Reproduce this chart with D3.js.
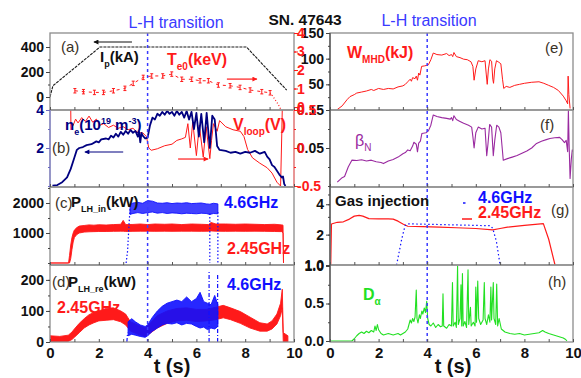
<!DOCTYPE html>
<html>
<head>
<meta charset="utf-8">
<script src="https://cdn.jsdelivr.net/npm/d3@7"></script>
<style>
  body { margin: 0; background: #fff; }
  svg { display: block; }
  text { font-family: "Liberation Sans", Arial, sans-serif; }
</style>
</head>
<body>
<svg id="chart" width="581" height="378"></svg>
<script>
// ---------- shot data (time in s) ----------
const timeLabels = [0, 2, 4, 6, 8, 10];
const timeMinor = [0, 1, 2, 3, 4, 5, 6, 7, 8, 9, 10];
const lhTime = 4;

// (a) plasma current Ip (kA)
const ipSeries = [[0, 0], [0.12, 90], [0.4, 135], [2.05, 400], [8.05, 400], [9.7, 55]];
// (a) central electron temperature Te0 (keV), with error half-width
const teTime = [1.02, 1.37, 1.82, 2.19, 2.6, 3.07, 3.41, 3.82, 4.17, 4.62, 4.99, 5.4, 5.81, 6.15, 6.49, 6.9, 7.38, 7.79, 8.2, 8.68, 9.02];
const teKeV = [0.88, 0.83, 0.79, 0.79, 0.88, 1.01, 1.28, 1.6, 1.68, 1.68, 1.78, 1.5, 1.5, 1.42, 1.42, 1.19, 1.15, 1.06, 0.92, 0.83, 0.77];
const teErr = 0.12;
const teTail = [[9.02, 0.77], [9.15, 0.55], [9.25, 0.35], [9.35, 0.15], [9.45, -0.1]];

// (b) line-averaged density ne (1e19 m^-3)
const neSeries = [[0.1, 0.02], [0.3, 0.05], [0.5, 0.2], [0.7, 0.45], [0.85, 0.9], [1.0, 1.5], [1.1, 1.9], [1.2, 2.0], [1.35, 2.05], [1.5, 2.15], [1.7, 2.2], [1.9, 2.35], [2.0, 2.3], [2.1, 2.45], [2.3, 2.5], [2.4, 2.45], [2.5, 2.65], [2.6, 2.55], [2.7, 2.75], [2.8, 2.6], [2.9, 2.85], [3.0, 2.7], [3.1, 2.9], [3.2, 2.75], [3.3, 2.95], [3.4, 2.8], [3.5, 2.9], [3.6, 2.6], [3.65, 2.85], [3.7, 2.3], [3.75, 2.8], [3.8, 2.65], [3.9, 2.5], [4.0, 2.55], [4.1, 3.2], [4.2, 3.6], [4.3, 3.5], [4.4, 3.8], [4.5, 3.7], [4.6, 3.9], [4.7, 3.75], [4.8, 3.95], [4.9, 3.8], [5.0, 3.9], [5.1, 3.7], [5.2, 3.95], [5.3, 3.75], [5.4, 3.9], [5.5, 3.6], [5.6, 3.95], [5.7, 3.5], [5.8, 3.9], [5.9, 3.0], [6.0, 3.85], [6.1, 2.6], [6.2, 3.8], [6.32, 2.3], [6.42, 3.85], [6.55, 2.0], [6.65, 3.7], [6.75, 3.5], [6.85, 2.1], [6.95, 1.9], [7.2, 1.85], [7.4, 1.75], [7.6, 1.8], [7.8, 1.7], [8.0, 1.8], [8.2, 1.75], [8.4, 1.85], [8.6, 1.7], [8.8, 1.8], [8.9, 1.55], [9.0, 1.4], [9.1, 1.1], [9.2, 1.0], [9.3, 0.8], [9.4, 0.6], [9.5, 0.45], [9.55, 0.5], [9.6, 0.1], [9.65, 0]];
// (b) loop voltage (V)
const vloopSeries = [[0.05, 0.9], [0.84, 0.8], [0.86, 0.24], [0.95, 0.3], [1.05, 0.38], [1.15, 0.33], [1.3, 0.4], [1.45, 0.35], [1.6, 0.42], [1.75, 0.34], [1.9, 0.38], [2.05, 0.3], [2.2, 0.32], [2.4, 0.27], [2.6, 0.3], [2.8, 0.26], [3.0, 0.28], [3.2, 0.24], [3.4, 0.26], [3.6, 0.2], [3.8, 0.2], [3.95, 0.15], [4.05, 0.0], [4.15, -0.03], [4.4, -0.01], [4.7, 0.03], [5.0, 0.05], [5.2, 0.1], [5.4, 0.12], [5.55, 0.14], [5.65, 0.32], [5.75, 0.0], [5.85, 0.34], [6.0, -0.1], [6.12, 0.3], [6.28, -0.12], [6.4, 0.28], [6.55, -0.14], [6.62, 0.1], [6.7, 0.32], [6.85, 0.22], [6.95, 0.36], [7.2, 0.28], [7.5, 0.24], [7.8, 0.22], [7.95, 0.15], [8.1, -0.02], [8.3, -0.13], [8.6, -0.2], [8.9, -0.26], [9.1, -0.33], [9.3, -0.45], [9.45, -0.5], [9.5, 0.2], [9.55, 1.0]];

// (c) injected LHW power (kW): [t, low, high]
const pin245 = [[0, 0, 0], [0.76, 0, 0], [0.8, 0, 250], [0.85, 150, 600], [0.9, 450, 850], [0.95, 700, 1000], [1.0, 850, 1100], [1.1, 950, 1180], [1.2, 1000, 1230], [1.4, 1030, 1250], [1.6, 1040, 1270], [1.8, 1045, 1260], [2.0, 1050, 1275], [2.3, 1050, 1265], [2.6, 1055, 1280], [2.9, 1060, 1290], [3.0, 1060, 1420], [3.1, 1050, 1280], [3.4, 1055, 1285], [3.7, 1060, 1300], [4.0, 1060, 1280], [4.3, 1055, 1300], [4.7, 1060, 1290], [5.0, 1055, 1300], [5.4, 1060, 1280], [5.8, 1060, 1300], [6.2, 1055, 1290], [6.5, 1060, 1280], [6.6, 1070, 1350], [6.8, 1060, 1300], [7.2, 1055, 1300], [7.6, 1060, 1290], [8.0, 1055, 1300], [8.4, 1060, 1290], [8.8, 1055, 1280], [9.2, 1050, 1290], [9.5, 1045, 1270], [9.55, 1000, 1260], [9.57, 0, 0]];
const pin46 = [[3.28, 1620, 1950], [3.4, 1650, 2000], [3.6, 1680, 2020], [3.8, 1650, 1990], [4.0, 1680, 2080], [4.2, 1700, 2060], [4.4, 1660, 2000], [4.6, 1680, 1990], [4.8, 1650, 2010], [5.0, 1670, 1980], [5.2, 1660, 2000], [5.4, 1640, 1990], [5.6, 1660, 2010], [5.8, 1650, 1980], [6.0, 1640, 1990], [6.2, 1660, 2000], [6.4, 1650, 1970], [6.55, 1620, 1960], [6.7, 1650, 1990], [6.88, 1640, 1970]];
const pin46Edges = [
  [[3.12, 0], [3.18, 400], [3.24, 1300], [3.28, 1800]],
  [[6.55, 1650], [6.55, 0]],
  [[6.88, 1700], [6.88, 0]]
];

// (d) reflected LHW power (kW): [t, low, high]
const pre245 = [[0, 0, 20], [0.4, 0, 18], [0.75, 2, 22], [0.9, 8, 32], [1.0, 15, 42], [1.2, 30, 60], [1.4, 45, 75], [1.6, 55, 88], [1.8, 62, 95], [2.0, 68, 100], [2.3, 70, 108], [2.6, 72, 110], [2.9, 65, 100], [3.1, 55, 90], [3.3, 35, 65], [3.6, 25, 55], [3.9, 18, 45], [4.1, 28, 60], [4.4, 45, 85], [4.8, 60, 100], [5.2, 68, 108], [5.6, 70, 110], [6.0, 66, 105], [6.4, 68, 105], [6.8, 72, 112], [7.1, 78, 118], [7.4, 72, 110], [7.8, 60, 98], [8.2, 45, 80], [8.6, 35, 62], [8.9, 35, 58], [9.1, 42, 68], [9.3, 58, 90], [9.45, 85, 125], [9.52, 110, 170], [9.56, 0, 30], [9.75, 0, 20]];
const pre46 = [[3.2, 20, 65], [3.35, 25, 75], [3.5, 22, 65], [3.7, 18, 55], [3.9, 15, 50], [4.0, 20, 55], [4.2, 35, 80], [4.4, 45, 100], [4.6, 55, 115], [4.8, 60, 125], [5.0, 58, 130], [5.2, 62, 135], [5.4, 55, 130], [5.6, 60, 145], [5.8, 58, 130], [6.0, 50, 140], [6.15, 45, 160], [6.3, 48, 130], [6.45, 40, 125], [6.6, 45, 120], [6.75, 42, 150], [6.88, 50, 120]];
const pre46Spikes = [
  [[3.15, 0], [3.18, 30]],
  [[6.52, 0], [6.52, 228]],
  [[6.87, 0], [6.87, 222]]
];

// (e) stored energy W_MHD (kJ)
const wmhdSeries = [[0.3, 1], [0.5, 8], [0.7, 20], [0.82, 26], [1.0, 30], [1.1, 33], [1.3, 35], [1.5, 37], [1.7, 40], [1.8, 38], [2.0, 42], [2.2, 40], [2.4, 42], [2.6, 41], [2.8, 45], [3.0, 47], [3.1, 50], [3.2, 55], [3.3, 60], [3.35, 56], [3.4, 63], [3.5, 61], [3.55, 66], [3.6, 58], [3.65, 72], [3.7, 68], [3.77, 85], [3.9, 86], [4.05, 88], [4.15, 98], [4.25, 111], [4.4, 108], [4.6, 107], [4.8, 110], [4.9, 106], [5.0, 108], [5.05, 104], [5.1, 112], [5.2, 104], [5.35, 102], [5.5, 99], [5.65, 98], [5.8, 94], [5.88, 85], [5.93, 58], [6.0, 80], [6.1, 96], [6.25, 94], [6.38, 96], [6.43, 70], [6.47, 50], [6.52, 80], [6.58, 98], [6.65, 95], [6.7, 60], [6.73, 52], [6.78, 80], [6.85, 96], [6.95, 93], [7.03, 90], [7.1, 60], [7.15, 42], [7.25, 46], [7.4, 44], [7.6, 48], [7.8, 50], [8.0, 52], [8.3, 54], [8.6, 55], [8.8, 52], [9.0, 48], [9.2, 44], [9.4, 38], [9.6, 27], [9.72, 18], [9.78, 12], [9.8, 66], [9.83, 30], [9.88, 3]];

// (f) normalized beta
const betaSeries = [[0.3, -0.04], [0.5, -0.028], [0.6, -0.025], [0.75, 0.0], [0.9, 0.018], [1.1, 0.017], [1.3, 0.019], [1.5, 0.016], [1.7, 0.018], [1.9, 0.014], [2.1, 0.012], [2.2, 0.009], [2.4, 0.016], [2.6, 0.02], [2.8, 0.026], [3.0, 0.035], [3.1, 0.038], [3.2, 0.045], [3.3, 0.043], [3.4, 0.055], [3.45, 0.065], [3.55, 0.06], [3.6, 0.04], [3.65, 0.063], [3.72, 0.068], [3.78, 0.088], [3.95, 0.09], [4.05, 0.095], [4.15, 0.11], [4.25, 0.137], [4.4, 0.133], [4.6, 0.13], [4.8, 0.128], [4.95, 0.126], [5.0, 0.13], [5.05, 0.122], [5.1, 0.135], [5.2, 0.125], [5.35, 0.12], [5.5, 0.115], [5.7, 0.11], [5.83, 0.105], [5.88, 0.08], [5.93, 0.05], [6.0, 0.09], [6.1, 0.105], [6.25, 0.1], [6.38, 0.102], [6.45, 0.03], [6.5, 0.06], [6.57, 0.112], [6.65, 0.105], [6.72, 0.03], [6.78, 0.07], [6.86, 0.11], [6.95, 0.105], [7.03, 0.09], [7.1, 0.04], [7.13, 0.018], [7.3, 0.022], [7.5, 0.026], [7.7, 0.03], [7.9, 0.036], [8.1, 0.042], [8.3, 0.05], [8.5, 0.062], [8.7, 0.068], [8.9, 0.072], [9.05, 0.075], [9.25, 0.077], [9.45, 0.078], [9.55, 0.072], [9.65, 0.064], [9.72, 0.07], [9.78, 0.04], [9.81, 0.15], [9.84, 0.06], [9.88, -0.03], [9.93, 0.02], [9.97, 0.045], [10.0, 0.04]];

// (g) gas injection waveforms
const gas245 = [[0, 1.0], [0.03, 1.0], [0.06, 2.55], [0.3, 2.65], [0.55, 2.68], [0.8, 2.85], [1.0, 3.05], [1.2, 3.1], [1.35, 3.05], [1.6, 2.88], [2.0, 2.87], [2.4, 2.86], [2.6, 2.85], [2.8, 2.72], [3.0, 2.55], [3.2, 2.42], [3.8, 2.4], [4.5, 2.37], [5.2, 2.34], [6.0, 2.3], [6.7, 2.23], [7.0, 2.3], [7.3, 2.37], [8.0, 2.47], [8.78, 2.57], [9.0, 1.8], [9.26, 1.0]];
const gas46 = [[2.74, 1.0], [2.95, 1.8], [3.09, 2.46], [3.2, 2.56], [6.6, 2.45], [6.7, 2.3], [6.85, 1.7], [7.0, 1.0]];

// (h) D-alpha emission
const dalphaSeries = [[0, 0], [0.9, 0], [1.0, 0.03], [1.1, 0.07], [1.2, 0.1], [1.3, 0.12], [1.4, 0.1], [1.5, 0.13], [1.6, 0.11], [1.7, 0.14], [1.8, 0.12], [1.85, 0.2], [1.9, 0.14], [1.95, 0.22], [2.0, 0.15], [2.1, 0.1], [2.2, 0.08], [2.4, 0.1], [2.6, 0.08], [2.8, 0.1], [2.9, 0.08], [3.0, 0.1], [3.1, 0.12], [3.2, 0.16], [3.3, 0.28], [3.35, 0.24], [3.4, 0.3], [3.45, 0.26], [3.5, 0.32], [3.55, 0.68], [3.58, 0.3], [3.62, 0.24], [3.68, 0.35], [3.72, 0.3], [3.78, 0.4], [3.82, 0.36], [3.88, 0.44], [3.93, 0.38], [3.98, 0.53], [4.02, 0.3], [4.08, 0.22], [4.15, 0.2], [4.25, 0.24], [4.35, 0.18], [4.45, 0.22], [4.55, 0.19], [4.62, 0.2], [4.65, 0.63], [4.68, 0.2], [4.8, 0.17], [4.9, 0.22], [5.0, 0.2], [5.04, 0.78], [5.07, 0.2], [5.15, 0.25], [5.2, 0.18], [5.25, 1.0], [5.28, 0.22], [5.35, 0.3], [5.39, 0.75], [5.42, 0.2], [5.45, 0.9], [5.48, 0.2], [5.55, 0.26], [5.62, 0.18], [5.68, 0.95], [5.71, 0.22], [5.78, 0.45], [5.81, 0.2], [5.9, 0.25], [5.97, 0.2], [6.0, 0.72], [6.03, 0.25], [6.08, 0.8], [6.12, 0.3], [6.2, 0.22], [6.3, 0.28], [6.35, 0.78], [6.38, 0.3], [6.45, 0.22], [6.52, 0.35], [6.58, 0.25], [6.62, 0.72], [6.65, 0.28], [6.72, 0.78], [6.75, 0.3], [6.82, 0.22], [6.86, 0.76], [6.9, 0.2], [6.96, 0.3], [7.05, 0.16], [7.2, 0.12], [7.4, 0.1], [7.6, 0.09], [7.8, 0.1], [8.0, 0.08], [8.2, 0.09], [8.4, 0.1], [8.6, 0.11], [8.75, 0.14], [8.85, 0.12], [9.0, 0.1], [9.2, 0.08], [9.4, 0.06], [9.6, 0.04], [9.7, 0.02], [9.75, 0]];

// axis tick values and labels
const ipTicks = [0, 200, 400], ipLabels = ["0", "200", "400"], ipMinor = [0, 100, 200, 300, 400];
const teTicks = [0, 1, 2, 3, 4], teLabels = ["0", "1", "2", "3", "4"];
const neTicks = [2, 4], neLabels = ["2", "4"], neMinor = [0, 1, 2, 3, 4];
const vTicks = [-0.5, 0, 0.5], vLabels = ["-0.5", "0", "0.5"], vMinor = [-0.5, -0.25, 0, 0.25, 0.5];
const pinTicks = [1000, 2000], pinLabels = ["1000", "2000"], pinMinor = [0, 500, 1000, 1500, 2000, 2500];
const preTicks = [0, 100, 200], preLabels = ["0", "100", "200"], preMinor = [0, 50, 100, 150, 200];
const wTicks = [50, 100, 150], wLabels = ["50", "100", "150"], wMinor = [0, 25, 50, 75, 100, 125, 150];
const betaTicks = [0.05, 0.15], betaLabels = ["0.05", "0.15"], betaMinor = [-0.05, 0, 0.05, 0.1, 0.15];
const gasTicks = [1, 2, 4], gasLabels = ["1.0", "2", "4"], gasMinor = [1, 2, 3, 4, 5];
const daTicks = [0, 0.5, 1], daLabels = ["0.0", "0.5", "1.0"], daMinor = [0, 0.25, 0.5, 0.75, 1];

// ---------- layout ----------
const svg = d3.select("#chart");
const colL = [50, 294], colR = [330, 573];
const rowA = [33, 110], rowB = [110, 187], rowC = [187, 265], rowD = [265, 342];

const xL = d3.scaleLinear().domain([0, 10]).range(colL);
const xR = d3.scaleLinear().domain([0, 10]).range(colR);

const yIp = d3.scaleLinear().domain([-104, 512]).range([rowA[1], rowA[0]]);
const yTe = d3.scaleLinear().domain([-0.16, 4]).range([rowA[1], rowA[0]]);
const yNe = d3.scaleLinear().domain([0, 4]).range([186, rowB[0]]);
const yV = d3.scaleLinear().domain([-0.5, 0.5]).range([186, rowB[0]]);
const yPin = d3.scaleLinear().domain([-67, 2533]).range([rowC[1], rowC[0]]);
const yPre = d3.scaleLinear().domain([0, 248]).range([rowD[1], rowD[0]]);
const yW = d3.scaleLinear().domain([0, 150]).range([rowA[1], rowA[0]]);
const yBeta = d3.scaleLinear().domain([-0.05, 0.15]).range([186, rowB[0]]);
const yGas = d3.scaleLog().domain([1, 5.93]).range([rowC[1], rowC[0]]);
const yDa = d3.scaleLinear().domain([0, 1]).range([341, rowD[0] + 1]);

const defs = svg.append("defs");
let clipCount = 0;
function clip(col, row) {
  const id = "clip" + (clipCount++);
  defs.append("clipPath").attr("id", id).append("rect")
    .attr("x", col[0]).attr("y", row[0])
    .attr("width", col[1] - col[0]).attr("height", row[1] - row[0]);
  return `url(#${id})`;
}

function line(data, x, y, cp, stroke, width, dash) {
  svg.append("path").datum(data)
    .attr("clip-path", cp).attr("fill", "none")
    .attr("stroke", stroke).attr("stroke-width", width)
    .attr("stroke-linejoin", "round")
    .attr("stroke-dasharray", dash || null)
    .attr("d", d3.line().x(d => x(d[0])).y(d => y(d[1])));
}

function band(data, x, y, cp, color, opacity) {
  svg.append("path").datum(data)
    .attr("clip-path", cp).attr("fill", color).attr("fill-opacity", opacity)
    .attr("stroke", color).attr("stroke-width", 0.9).attr("stroke-linejoin", "bevel")
    .attr("d", d3.area().x(d => x(d[0])).y0(d => y(d[1])).y1(d => y(d[2])));
}

const RED = "#ff1a1a", BLUE = "#1010ff", NAVY = "#000080", GREEN = "#22e022", PURPLE = "#9a2aa0", LHBLUE = "#3a3aff";

// ---------- traces ----------
const cA = clip(colL, rowA), cB = clip(colL, rowB), cC = clip(colL, rowC), cD = clip(colL, rowD);
const cE = clip(colR, rowA), cF = clip(colR, rowB), cG = clip(colR, rowC), cH = clip(colR, rowD);

// (a)
line(ipSeries, xL, yIp, cA, "#1a1a1a", 1.1, "3,1");
const teData = teTime.map((t, i) => [t, teKeV[i]]);
line(teData, xL, yTe, cA, RED, 1, "3,4");
line(teTail, xL, yTe, cA, RED, 1.2, "1,2");
svg.append("g").attr("clip-path", cA).selectAll("path").data(teData).join("path")
  .attr("fill", "none").attr("stroke", RED).attr("stroke-width", 1)
  .attr("d", d => {
    const x = xL(d[0]), y0 = yTe(d[1] - teErr), y1 = yTe(d[1] + teErr);
    return `M${x},${y0}V${y1}M${x - 1.5},${y0}H${x + 1.5}M${x - 1.5},${y1}H${x + 1.5}`;
  });

// (b)
line(vloopSeries, xL, yV, cB, RED, 1);
line(neSeries, xL, yNe, cB, NAVY, 1.8);

// (c)
band(pin245, xL, yPin, cC, RED, 1);
band(pin46, xL, yPin, cC, BLUE, 0.8);
pin46Edges.forEach(s => line(s, xL, yPin, cC, BLUE, 1.2, "1.5,2"));

// (d)
band(pre245, xL, yPre, cD, RED, 1);
band(pre46, xL, yPre, cD, BLUE, 0.9);
pre46Spikes.forEach(s => line(s, xL, yPre, cD, BLUE, 1.2, "4,2,1,2"));

// (e)-(h)
line(wmhdSeries, xR, yW, cE, RED, 1);
line(betaSeries, xR, yBeta, cF, PURPLE, 1.1);
line(gas245, xR, yGas, cG, RED, 1.2);
line(gas46, xR, yGas, cG, BLUE, 1.2, "1.5,2.5");
line(dalphaSeries, xR, yDa, cH, GREEN, 1.1);

// L-H transition markers
[xL, xR].forEach(x => {
  svg.append("line").attr("x1", x(lhTime)).attr("x2", x(lhTime))
    .attr("y1", rowA[0]).attr("y2", rowD[1])
    .attr("stroke", LHBLUE).attr("stroke-width", 1.5).attr("stroke-dasharray", "3,3");
});

// ---------- frames and axes ----------
const FRAME = "#8c8c8c";
function frame(col, row) {
  svg.append("rect").attr("x", col[0]).attr("y", row[0])
    .attr("width", col[1] - col[0]).attr("height", row[1] - row[0])
    .attr("fill", "none").attr("stroke", FRAME).attr("stroke-width", 1.3);
}
[rowA, rowB, rowC, rowD].forEach(r => { frame(colL, r); frame(colR, r); });
// coloured axis lines of panel (b)
svg.append("line").attr("x1", colL[0]).attr("x2", colL[0]).attr("y1", rowB[0]).attr("y2", rowB[1])
  .attr("stroke", "#8a8ad0").attr("stroke-width", 1.4);
svg.append("line").attr("x1", colL[1]).attr("x2", colL[1]).attr("y1", rowB[0]).attr("y2", rowB[1])
  .attr("stroke", "#ff8a8a").attr("stroke-width", 1.4);
// darker left axis of the right column
svg.append("line").attr("x1", colR[0]).attr("x2", colR[0]).attr("y1", rowA[0]).attr("y2", rowD[1])
  .attr("stroke", "#555").attr("stroke-width", 1.3);

function styleAxis(g, color, labelColor, size) {
  g.select(".domain").remove();
  g.selectAll(".tick line").attr("stroke", color).attr("stroke-width", 1);
  g.selectAll(".tick text").attr("fill", labelColor).attr("font-size", size || 14)
    .attr("font-weight", "bold").attr("font-family", '"Liberation Sans", Arial, sans-serif');
}

function yAxis(orient, scale, x, major, labels, minor, tickColor, labelColor, pad) {
  const mk = orient === "left" ? d3.axisLeft : d3.axisRight;
  const gm = svg.append("g").attr("transform", `translate(${x},0)`)
    .call(mk(scale).tickValues(minor).tickSize(2).tickFormat(""));
  styleAxis(gm, tickColor, labelColor);
  const g = svg.append("g").attr("transform", `translate(${x},0)`)
    .call(mk(scale).tickValues(major).tickSize(4).tickPadding(pad == null ? 2 : pad)
      .tickFormat((d, i) => labels[i]));
  styleAxis(g, tickColor, labelColor);
  return g;
}

// left column, left axes
yAxis("left", yIp, colL[0], ipTicks, ipLabels, ipMinor, "#444", "#111");
yAxis("left", yNe, colL[0], neTicks, neLabels, neMinor, "#6a6ac0", NAVY);
yAxis("left", yPin, colL[0], pinTicks, pinLabels, pinMinor, "#444", "#111");
yAxis("left", yPre, colL[0], preTicks, preLabels, preMinor, "#444", "#111");
// right column, left axes
yAxis("left", yW, colR[0], wTicks, wLabels, wMinor, "#444", "#111");
yAxis("left", yBeta, colR[0], betaTicks, betaLabels, betaMinor, "#444", "#111");
yAxis("left", yGas, colR[0], gasTicks, gasLabels, gasMinor, "#444", "#111");
yAxis("left", yDa, colR[0], daTicks, daLabels, daMinor, "#444", "#111");
// left column, right axes (drawn on top)
yAxis("right", yTe, colL[1], teTicks, teLabels, teTicks, RED, RED, -1);
yAxis("right", yV, colL[1], vTicks, vLabels, vMinor, RED, RED, -1);

// time axes: inward ticks on every panel, labels on the bottom row
[xL, xR].forEach(x => {
  [rowA, rowB, rowC, rowD].forEach(r => {
    const g = svg.append("g").attr("transform", `translate(0,${r[1]})`)
      .call(d3.axisTop(x).tickValues(timeMinor).tickSize(3).tickFormat(""));
    styleAxis(g, "#555", "#111");
  });
  const gl = svg.append("g").attr("transform", `translate(0,${rowD[1]})`)
    .call(d3.axisBottom(x).tickValues(timeLabels).tickSize(0).tickPadding(5).tickFormat(d3.format("d")));
  styleAxis(gl, "#555", "#111", 15);
});

// ---------- text ----------
function rich(x, y, parts, fill, size, weight, anchor) {
  const t = svg.append("text").attr("x", x).attr("y", y)
    .attr("fill", fill).attr("font-size", size)
    .attr("font-weight", weight || "bold").attr("text-anchor", anchor || "start");
  let cur = 0;
  parts.forEach(([s, k]) => {
    const target = k === "sub" ? size * 0.3 : k === "sup" ? -size * 0.42 : 0;
    t.append("tspan").attr("dy", target - cur)
      .attr("font-size", k ? Math.round(size * 0.6) : size).text(s);
    cur = target;
  });
  return t;
}

svg.append("text").attr("x", 305).attr("y", 25).attr("text-anchor", "middle")
  .attr("font-size", 15.5).attr("font-weight", "bold").attr("fill", "#111").text("SN. 47643");
svg.append("text").attr("x", 176).attr("y", 28).attr("text-anchor", "middle")
  .attr("font-size", 16).attr("fill", LHBLUE).text("L-H transition");
svg.append("text").attr("x", 429).attr("y", 26).attr("text-anchor", "middle")
  .attr("font-size", 16).attr("fill", LHBLUE).text("L-H transition");

// panel tags
const TAG = "#3a3226";
[["(a)", 61, 52], ["(b)", 52, 153], ["(c)", 55, 208], ["(d)", 52, 287],
 ["(e)", 545, 53], ["(f)", 540, 130], ["(g)", 551, 215], ["(h)", 548, 287]]
  .forEach(([s, x, y]) => svg.append("text").attr("x", x).attr("y", y)
    .attr("font-size", 15).attr("fill", TAG).text(s));

// quantity labels
rich(100, 62, [["I"], ["p", "sub"], ["(kA)"]], "#111", 15);
rich(167, 65, [["T"], ["e0", "sub"], ["(keV)"]], RED, 16);
rich(65, 130, [["n"], ["e", "sub"], ["(10"], ["19", "sup"], [" m"], ["-3", "sup"], [")"]], NAVY, 15);
rich(233, 130, [["V"], ["loop", "sub"], ["(V)"]], RED, 16);
rich(71, 207, [["P"], ["LH_in", "sub"], ["(kW)"]], "#111", 15);
rich(68, 287, [["P"], ["LH_re", "sub"], ["(kW)"]], "#111", 15);
rich(347, 58, [["W"], ["MHD", "sub"], ["(kJ)"]], RED, 16);
rich(355, 146, [["β"], ["N", "sub"]], PURPLE, 16, "normal");
rich(363, 300, [["D"], ["α", "sub"]], GREEN, 16);
svg.append("text").attr("x", 335).attr("y", 206).attr("font-size", 15).attr("font-weight", "bold")
  .attr("fill", "#111").text("Gas injection");

// frequency labels
function freq(x, y, s, c) {
  svg.append("text").attr("x", x).attr("y", y).attr("font-size", 16)
    .attr("font-weight", "bold").attr("fill", c).text(s);
}
freq(224, 208, "4.6GHz", BLUE);
freq(227, 254, "2.45GHz", RED);
freq(227, 290, "4.6GHz", BLUE);
freq(57, 313, "2.45GHz", RED);
freq(478, 203, "4.6GHz", BLUE);
freq(478, 218, "2.45GHz", RED);
svg.append("line").attr("x1", 463).attr("x2", 465.5).attr("y1", 203).attr("y2", 203)
  .attr("stroke", BLUE).attr("stroke-width", 1.5);
svg.append("line").attr("x1", 462).attr("x2", 472).attr("y1", 219).attr("y2", 219)
  .attr("stroke", RED).attr("stroke-width", 1.5);

// direction arrows (placed in data coordinates of their panels)
defs.selectAll("marker").data([["arrK", "#111"], ["arrR", RED], ["arrN", NAVY]]).join("marker")
  .attr("id", d => d[0]).attr("viewBox", "0 0 10 10").attr("refX", 9).attr("refY", 5)
  .attr("markerWidth", 7).attr("markerHeight", 5).attr("markerUnits", "userSpaceOnUse")
  .attr("orient", "auto")
  .append("path").attr("d", "M0,0L10,5L0,10z").attr("fill", d => d[1]);
function arrow(x, y, t0, t1, v, color, marker) {
  svg.append("line").attr("x1", x(t0)).attr("x2", x(t1)).attr("y1", y(v)).attr("y2", y(v))
    .attr("stroke", color).attr("stroke-width", 1.2).attr("marker-end", `url(#${marker})`);
}
arrow(xL, yIp, 3.36, 1.8, 440, "#111", "arrK");
arrow(xL, yTe, 7.25, 8.48, 1.51, RED, "arrR");
arrow(xL, yNe, 3.0, 1.43, 1.79, NAVY, "arrN");
arrow(xL, yV, 5.25, 6.48, -0.145, RED, "arrR");

// time axis titles
[[172, 373], [453, 373]].forEach(([x, y]) =>
  svg.append("text").attr("x", x).attr("y", y).attr("text-anchor", "middle")
    .attr("font-size", 20).attr("font-weight", "bold").attr("fill", "#111").text("t (s)"));
</script>
</body>
</html>
